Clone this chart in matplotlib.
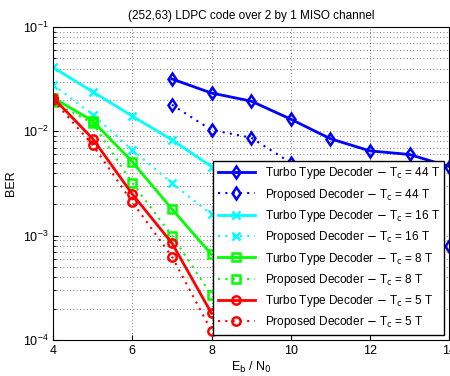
import numpy as np
import matplotlib.pyplot as plt

plt.rcParams['font.family'] = ['Liberation Sans', 'DejaVu Sans']

ebn0_44 = [7, 8, 9, 10, 11, 12, 13, 14]
turbo_44 = [0.0318, 0.0233, 0.0195, 0.0131, 0.0085, 0.0065, 0.006, 0.0046]
prop_44 = [0.018, 0.0103, 0.0087, 0.005, 0.0032, 0.0021, 0.0013, 0.00079]

ebn0 = [4, 5, 6, 7, 8]
turbo_16 = [0.041, 0.024, 0.014, 0.0083, 0.0046]
prop_16 = [0.028, 0.0145, 0.0066, 0.0032, 0.0016]
turbo_8 = [0.021, 0.0126, 0.0051, 0.0018, 0.00066]
prop_8 = [0.019, 0.012, 0.0032, 0.001, 0.00027]
turbo_5 = [0.021, 0.0085, 0.0025, 0.00085, 0.00018]
prop_5 = [0.020, 0.0074, 0.0021, 0.00063, 0.000122]

fig = plt.figure(figsize=(4.5, 3.76), dpi=100)
ax = fig.add_axes([0.118, 0.096, 0.88, 0.832])

series = [
    (ebn0_44, turbo_44, prop_44, '#0000ff', 'd', '44'),
    (ebn0, turbo_16, prop_16, '#00ffff', 'x', '16'),
    (ebn0, turbo_8, prop_8, '#00ff00', 's', '8'),
    (ebn0, turbo_5, prop_5, '#ff0000', 'o', '5'),
]
for x, t, p, col, m, tc in series:
    ax.semilogy(x, t, '-', color=col, marker=m, lw=2, ms=6, mew=1.8, mfc='none',
                label=r'Turbo Type Decoder $-$ T$_\mathrm{c}$ = %s T' % tc)
    ax.semilogy(x, p, color=col, marker=m, lw=1.5, ls=(0, (1, 2.5)), ms=6, mew=1.8,
                mfc='none', label=r'Proposed Decoder $-$ T$_\mathrm{c}$ = %s T' % tc)

ax.set_xlim(4, 14)
ax.set_ylim(1e-4, 1e-1)
ax.set_xticks([4, 6, 8, 10, 12, 14])
ax.grid(True, which='major', color='k', linestyle=(0, (1, 3)), linewidth=0.6, alpha=0.7)
ax.grid(True, which='minor', axis='y', color='k', linestyle=(0, (1, 3)), linewidth=0.6, alpha=0.7)
ax.tick_params(labelsize=9, direction='in', which='both')
ax.set_xlabel('E$_\\mathrm{b}$ / N$_0$', fontsize=9, labelpad=2)
ax.set_ylabel('BER', fontsize=9)
ax.set_title('(252,63) LDPC code over 2 by 1 MISO channel', fontsize=8.5, pad=6)

leg = ax.legend(loc='lower right', fontsize=8.5, fancybox=False, edgecolor='k',
                framealpha=1, borderaxespad=0.4, handlelength=3.2, labelspacing=0.45)
leg.get_frame().set_linewidth(1)

plt.savefig('out.png', dpi=100)
